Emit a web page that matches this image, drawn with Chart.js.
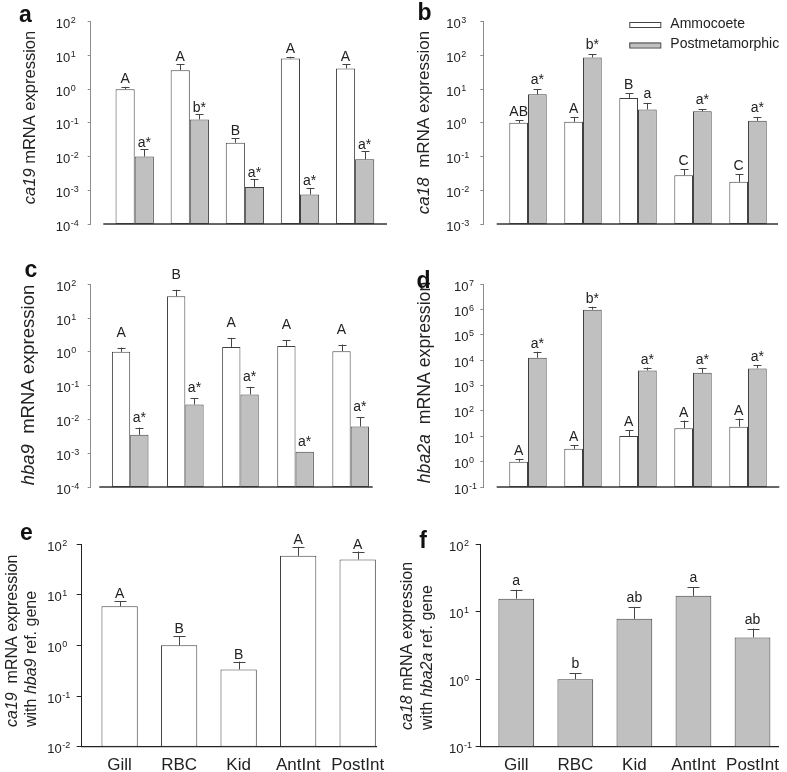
<!DOCTYPE html>
<html>
<head>
<meta charset="utf-8">
<title>CA and Hb expression</title>
<script src="https://cdn.jsdelivr.net/npm/chart.js@4.4.0/dist/chart.umd.min.js"></script>
<style>
  body { margin: 0; background: #fff; }
  #wrap { position: relative; width: 787px; height: 772px; }
  canvas { position: absolute; }
</style>
</head>
<body>
<div id="wrap">
  <canvas id="panelA" width="393" height="250" style="left:0;top:0"></canvas>
  <canvas id="panelB" width="394" height="250" style="left:393px;top:0"></canvas>
  <canvas id="panelC" width="393" height="250" style="left:0;top:250px"></canvas>
  <canvas id="panelD" width="394" height="250" style="left:393px;top:250px"></canvas>
  <canvas id="panelE" width="393" height="272" style="left:0;top:500px"></canvas>
  <canvas id="panelF" width="394" height="272" style="left:393px;top:500px"></canvas>
</div>
<script>
const fam = "'Liberation Sans', Arial, Helvetica, sans-serif";

// tissues (same order in every panel)
const tissues = ['Gill', 'RBC', 'Kid', 'AntInt', 'PostInt'];
const stages = ['Ammocoete', 'Postmetamorphic'];

// a: ca19
const ca19Amm = [1.0, 3.66, 0.0256, 8.1, 4.1];
const ca19AmmSem = [0.17, 1.74, 0.0089, 1.0, 1.3];
const ca19AmmSig = ['A', 'A', 'B', 'A', 'A'];
const ca19Post = [0.0100, 0.126, 0.00126, 0.00075, 0.0083];
const ca19PostSem = [0.0066, 0.054, 0.00084, 0.00043, 0.0062];
const ca19PostSig = ['a*', 'b*', 'a*', 'a*', 'a*'];

// b: ca18
const ca18Amm = [1.0, 1.07, 5.5, 0.028, 0.0178];
const ca18AmmSem = [0.2, 0.43, 1.95, 0.014, 0.012];
const ca18AmmSig = ['AB', 'A', 'B', 'C', 'C'];
const ca18Post = [7.0, 87, 2.5, 2.2, 1.15];
const ca18PostSem = [3.0, 20, 1.4, 0.35, 0.35];
const ca18PostSig = ['a*', 'b*', 'a', 'a*', 'a*'];

// c: hba9
const hba9Amm = [1.0, 44, 1.4, 1.5, 1.05];
const hba9AmmSem = [0.34, 25, 1.2, 0.7, 0.6];
const hba9AmmSig = ['A', 'B', 'A', 'A', 'A'];
const hba9Post = [0.0035, 0.0277, 0.055, 0.0011, 0.0062];
const hba9PostSem = [0.0022, 0.0143, 0.037, 0, 0.0053];
const hba9PostSig = ['a*', 'a*', 'a*', 'a*', 'a*'];

// d: hba2a
const hba2aAmm = [1.0, 3.2, 10.2, 21, 24];
const hba2aAmmSem = [0.3, 1.2, 7.5, 21, 26];
const hba2aAmmSig = ['A', 'A', 'A', 'A', 'A'];
const hba2aPost = [12600, 1.0e6, 4000, 3200, 4800];
const hba2aPostSem = [9100, 3e5, 1200, 1850, 1500];
const hba2aPostSig = ['a*', 'b*', 'a*', 'a*', 'a*'];

// e: ca19 with hba9 ref. gene (ammocoete)
const ca19Ref = [5.9, 1.0, 0.335, 58.4, 49.4];
const ca19RefSem = [1.6, 0.5, 0.14, 29.6, 21.6];
const ca19RefSig = ['A', 'B', 'B', 'A', 'A'];

// f: ca18 with hba2a ref. gene (postmetamorphic)
const ca18Ref = [15.5, 1.0, 7.8, 17.1, 4.14];
const ca18RefSem = [5.5, 0.23, 3.8, 5.9, 1.46];
const ca18RefSig = ['a', 'b', 'ab', 'a', 'ab'];

const WHITE = '#ffffff';
const GREY = '#c0c0c0';

// decade ticks for a log axis
function decades(min, max) {
    const out = [];
    for (let e = Math.round(Math.log10(min)); e <= Math.round(Math.log10(max)); e++) {
        out.push(Math.pow(10, e));
    }
    return out;
}

// rotated y title, made of plain / italic pieces
function drawRotLine(ctx, segs, x, y, size, anchor) {
    ctx.save();
    ctx.translate(x, y);
    ctx.rotate(-Math.PI / 2);
    const widths = segs.map(([t, it]) => {
        ctx.font = (it ? 'italic ' : '') + size + 'px ' + fam;
        return ctx.measureText(t).width;
    });
    const total = widths.reduce((a, b) => a + b, 0);
    let pos = anchor === 'center' ? -total / 2 : 0;
    ctx.textAlign = 'left';
    ctx.textBaseline = 'middle';
    ctx.fillStyle = '#222';
    segs.forEach(([t, it], k) => {
        ctx.font = (it ? 'italic ' : '') + size + 'px ' + fam;
        ctx.fillText(t, pos, 0);
        pos += widths[k];
    });
    ctx.restore();
}

function decorPlugin(p) {
    return {
        id: 'decor',
        afterDraw(chart) {
            const ctx = chart.ctx;
            const area = chart.chartArea;
            const ys = chart.scales.y;
            ctx.save();

            // x axis line, detached from the y axis (panels a-d)
            if (p.xGap != null) {
                ctx.strokeStyle = '#333';
                ctx.lineWidth = 1.3;
                ctx.beginPath();
                ctx.moveTo(area.left + p.xGap, area.bottom);
                ctx.lineTo(area.right, area.bottom);
                ctx.stroke();
            }

            // error bars (upper only) + significance letters
            p.series.forEach((s, di) => {
                const meta = chart.getDatasetMeta(di);
                meta.data.forEach((bar, i) => {
                    const topY = ys.getPixelForValue(s.values[i] + s.sem[i]);
                    const bx = Math.round(bar.x) + 0.5;
                    if (s.sem[i] > 0) {
                        ctx.strokeStyle = '#444';
                        ctx.lineWidth = 1;
                        ctx.beginPath();
                        ctx.moveTo(bx, bar.y);
                        ctx.lineTo(bx, topY);
                        ctx.moveTo(bx - p.capW / 2, Math.round(topY) + 0.5);
                        ctx.lineTo(bx + p.capW / 2, Math.round(topY) + 0.5);
                        ctx.stroke();
                    }
                    ctx.fillStyle = '#222';
                    ctx.font = '14px ' + fam;
                    ctx.textAlign = 'center';
                    ctx.textBaseline = 'alphabetic';
                    ctx.fillText(s.sig[i], bar.x, topY - p.sigGap[di]);
                });
            });

            // y tick labels as 10 with superscript exponent
            const x0 = area.left - p.labOff;
            ctx.fillStyle = '#222';
            ctx.textAlign = 'left';
            ctx.textBaseline = 'alphabetic';
            ys.ticks.forEach(t => {
                const y = ys.getPixelForValue(t.value);
                const e = Math.round(Math.log10(t.value));
                ctx.font = '13px ' + fam;
                ctx.fillText('10', x0, y + 6.5);
                const w = ctx.measureText('10').width;
                ctx.font = '9px ' + fam;
                ctx.fillText(String(e), x0 + w + 0.5, y + 1.5);
            });

            // y title
            p.title.lines.forEach((segs, k) => {
                drawRotLine(ctx, segs, p.title.xs[k], p.title.y, p.title.size, p.title.anchor);
            });

            // panel letter
            ctx.fillStyle = '#111';
            ctx.font = 'bold 23px ' + fam;
            ctx.textAlign = 'center';
            ctx.textBaseline = 'alphabetic';
            ctx.fillText(p.letter.t, p.letter.x, p.letter.y);

            // legend (panel b only)
            if (p.legend) {
                p.series.forEach((s, k) => {
                    const ly = p.legend.y + k * p.legend.step;
                    ctx.fillStyle = s.fill;
                    ctx.fillRect(p.legend.x, ly, 31, 5);
                    ctx.strokeStyle = '#444';
                    ctx.lineWidth = 1;
                    ctx.strokeRect(p.legend.x + 0.5, ly + 0.5, 31, 5);
                    ctx.fillStyle = '#222';
                    ctx.font = '14px ' + fam;
                    ctx.textAlign = 'left';
                    ctx.textBaseline = 'middle';
                    ctx.fillText(s.label, p.legend.x + 41, ly + 2);
                });
            }
            ctx.restore();
        }
    };
}

function makePanel(id, p) {
    const datasets = p.series.map(s => ({
        label: s.label,
        data: s.values.map((v, i) => ({ x: i, y: v })),
        backgroundColor: s.fill,
        borderColor: '#404040',
        borderWidth: 1,
        borderSkipped: false,
        categoryPercentage: p.catPct,
        barPercentage: 1
    }));
    new Chart(document.getElementById(id), {
        type: 'bar',
        data: { datasets: datasets },
        options: {
            responsive: false,
            animation: false,
            devicePixelRatio: 1,
            layout: { padding: p.pad },
            plugins: { legend: { display: false }, tooltip: { enabled: false } },
            scales: {
                x: {
                    type: 'linear',
                    min: p.xMin,
                    max: p.xMax,
                    offset: false,
                    display: p.showX,
                    afterBuildTicks: s => { s.ticks = tissues.map((t, i) => ({ value: i })); },
                    afterFit: s => { s.height = p.showX ? p.xH : 0; },
                    grid: { display: false, drawTicks: false, offset: false },
                    border: { display: p.showX, color: '#222', width: 1.3 },
                    ticks: {
                        callback: v => tissues[v],
                        autoSkip: false,
                        maxRotation: 0,
                        padding: 8,
                        color: '#222',
                        font: { size: 17, family: fam }
                    }
                },
                y: {
                    type: 'logarithmic',
                    min: p.yMin,
                    max: p.yMax,
                    afterBuildTicks: s => { s.ticks = decades(p.yMin, p.yMax).map(v => ({ value: v })); },
                    afterFit: s => { s.width = p.yW; },
                    grid: { drawOnChartArea: false, drawTicks: true, tickLength: p.tickLen, color: p.axisColor },
                    border: { color: p.axisColor, width: 1 },
                    ticks: { display: false }
                }
            }
        },
        plugins: [decorPlugin(p)]
    });
}

const AXIS_LIGHT = '#8c8c8c';
const AXIS_DARK = '#222';

makePanel('panelA', {
    series: [
        { label: stages[0], values: ca19Amm, sem: ca19AmmSem, sig: ca19AmmSig, fill: WHITE },
        { label: stages[1], values: ca19Post, sem: ca19PostSem, sig: ca19PostSig, fill: GREY }
    ],
    pad: { left: 0, top: 21.7, right: 6, bottom: 26 },
    yW: 90.7, yMin: 1e-4, yMax: 1e2,
    xMin: -0.7985, xMax: 4.579, catPct: 0.695, showX: false,
    xGap: 12.6, axisColor: AXIS_LIGHT, tickLen: 3, labOff: 35, capW: 8, sigGap: [3.5, 2.5],
    title: { lines: [[['ca19', 1], [' mRNA expression', 0]]], xs: [30], y: 117.5, size: 16.5, anchor: 'center' },
    letter: { t: 'a', x: 25.5, y: 22 }
});

makePanel('panelB', {
    series: [
        { label: stages[0], values: ca18Amm, sem: ca18AmmSem, sig: ca18AmmSig, fill: WHITE },
        { label: stages[1], values: ca18Post, sem: ca18PostSem, sig: ca18PostSig, fill: GREY }
    ],
    pad: { left: 0, top: 21.7, right: 9, bottom: 26 },
    yW: 90.3, yMin: 1e-3, yMax: 1e3,
    xMin: -0.8127, xMax: 4.545, catPct: 0.68, showX: false,
    xGap: 13.4, axisColor: AXIS_LIGHT, tickLen: 3, labOff: 37, capW: 8, sigGap: [4, 5],
    title: { lines: [[['ca18', 1], ['  mRNA expression', 0]]], xs: [31], y: 122.5, size: 17, anchor: 'center' },
    letter: { t: 'b', x: 31.5, y: 20 },
    legend: { x: 236.3, y: 22, step: 20.5 }
});

makePanel('panelC', {
    series: [
        { label: stages[0], values: hba9Amm, sem: hba9AmmSem, sig: hba9AmmSig, fill: WHITE },
        { label: stages[1], values: hba9Post, sem: hba9PostSem, sig: hba9PostSig, fill: GREY }
    ],
    pad: { left: 0, top: 34.3, right: 20.3, bottom: 13 },
    yW: 90.7, yMin: 1e-4, yMax: 1e2,
    xMin: -0.717, xMax: 4.4, catPct: 0.664, showX: false,
    xGap: 8.6, axisColor: AXIS_LIGHT, tickLen: 3, labOff: 34.4, capW: 8, sigGap: [11, 6],
    title: { lines: [[['hba9', 1], ['  mRNA expression', 0]]], xs: [29], y: 135, size: 18.5, anchor: 'center' },
    letter: { t: 'c', x: 31, y: 27 }
});

makePanel('panelD', {
    series: [
        { label: stages[0], values: hba2aAmm, sem: hba2aAmmSem, sig: hba2aAmmSig, fill: WHITE },
        { label: stages[1], values: hba2aPost, sem: hba2aPostSem, sig: hba2aPostSig, fill: GREY }
    ],
    pad: { left: 0, top: 34.3, right: 7.7, bottom: 13 },
    yW: 90.3, yMin: 1e-1, yMax: 1e7,
    xMin: -0.8127, xMax: 4.569, catPct: 0.68, showX: false,
    xGap: 13.4, axisColor: AXIS_LIGHT, tickLen: 3, labOff: 29.3, capW: 8, sigGap: [4, 4],
    title: { lines: [[['hba2a', 1], ['  mRNA expression', 0]]], xs: [32], y: 132.5, size: 17.7, anchor: 'center' },
    letter: { t: 'd', x: 30.5, y: 38 }
});

makePanel('panelE', {
    series: [
        { label: stages[0], values: ca19Ref, sem: ca19RefSem, sig: ca19RefSig, fill: WHITE }
    ],
    pad: { left: 0, top: 44, right: 13.7, bottom: 0 },
    yW: 81.7, xH: 25.3, yMin: 1e-2, yMax: 1e2,
    xMin: -0.637, xMax: 4.314, catPct: 0.61, showX: true,
    xGap: null, axisColor: AXIS_DARK, tickLen: 5, labOff: 34.4, capW: 12, sigGap: [3],
    title: {
        lines: [[['ca19', 1], ['  mRNA expression', 0]], [['with ', 0], ['hba9', 1], [' ref. gene', 0]]],
        xs: [13, 32], y: 227, size: 16, anchor: 'start'
    },
    letter: { t: 'e', x: 26.5, y: 40 }
});

makePanel('panelF', {
    series: [
        { label: stages[1], values: ca18Ref, sem: ca18RefSem, sig: ca18RefSig, fill: GREY }
    ],
    pad: { left: 0, top: 44, right: 0.3, bottom: 0 },
    yW: 87.7, xH: 25.3, yMin: 1e-1, yMax: 1e2,
    xMin: -0.602, xMax: 4.445, catPct: 0.605, showX: true,
    xGap: null, axisColor: AXIS_DARK, tickLen: 5, labOff: 31.7, capW: 12, sigGap: [5],
    title: {
        lines: [[['ca18', 1], [' mRNA expression', 0]], [['with ', 0], ['hba2a', 1], [' ref. gene', 0]]],
        xs: [14.5, 34.5], y: 230, size: 16, anchor: 'start'
    },
    letter: { t: 'f', x: 30, y: 48 }
});
</script>
</body>
</html>
